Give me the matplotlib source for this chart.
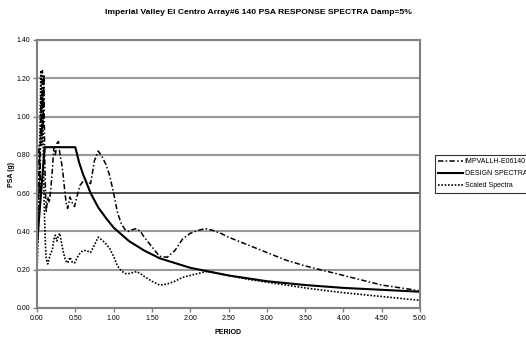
import matplotlib
matplotlib.use("Agg")
import matplotlib.pyplot as plt

plt.rcParams["font.family"] = ["Liberation Sans", "DejaVu Sans"]

# IMPVALLH-E06140 (dash-dot)
rec_period = [0.00, 0.01, 0.02, 0.03, 0.04, 0.05, 0.06, 0.07, 0.08, 0.09, 0.10, 0.11,
              0.12, 0.14, 0.16, 0.18, 0.20, 0.22, 0.24, 0.26, 0.28, 0.30, 0.32, 0.34,
              0.36, 0.38, 0.40, 0.43, 0.46, 0.49, 0.52, 0.56, 0.60, 0.65, 0.70, 0.75,
              0.80, 0.85, 0.90, 0.95, 1.00, 1.05, 1.10, 1.15, 1.20, 1.25, 1.30, 1.35,
              1.40, 1.50, 1.60, 1.70, 1.80, 1.90, 2.00, 2.10, 2.20, 2.30, 2.40, 2.50,
              2.75, 3.00, 3.25, 3.50, 3.75, 4.00, 4.25, 4.50, 4.75, 5.00]
rec_psa = [0.33, 0.40, 0.55, 0.85, 0.60, 1.10, 0.90, 1.24, 0.95, 1.22, 0.80, 0.62,
           0.50, 0.58, 0.55, 0.62, 0.72, 0.84, 0.80, 0.86, 0.87, 0.80, 0.76, 0.70,
           0.62, 0.55, 0.52, 0.58, 0.55, 0.53, 0.58, 0.64, 0.66, 0.66, 0.65, 0.77,
           0.82, 0.79, 0.75, 0.69, 0.60, 0.50, 0.44, 0.41, 0.40, 0.41, 0.415, 0.40,
           0.37, 0.32, 0.27, 0.265, 0.30, 0.36, 0.39, 0.405, 0.415, 0.405, 0.39, 0.37,
           0.33, 0.29, 0.25, 0.22, 0.195, 0.17, 0.145, 0.12, 0.105, 0.09]

# DESIGN SPECTRA (solid)
des_period = [0.00, 0.10, 0.50, 0.55, 0.60, 0.65, 0.70, 0.80, 0.90, 1.00, 1.20, 1.40,
              1.60, 1.80, 2.00, 2.25, 2.50, 3.00, 3.50, 4.00, 4.50, 5.00]
des_psa = [0.33, 0.84, 0.84, 0.76, 0.70, 0.65, 0.60, 0.525, 0.47, 0.42, 0.35, 0.30,
           0.26, 0.235, 0.21, 0.19, 0.17, 0.14, 0.12, 0.105, 0.095, 0.085]

# Scaled Spectra (dotted)
scl_period = [0.00, 0.01, 0.02, 0.03, 0.04, 0.05, 0.06, 0.07, 0.08, 0.09, 0.10, 0.11,
              0.12, 0.14, 0.16, 0.18, 0.20, 0.22, 0.24, 0.26, 0.28, 0.30, 0.32, 0.34,
              0.37, 0.40, 0.43, 0.46, 0.49, 0.52, 0.56, 0.60, 0.65, 0.70, 0.75, 0.80,
              0.85, 0.90, 0.95, 1.00, 1.05, 1.10, 1.15, 1.20, 1.25, 1.30, 1.35, 1.40,
              1.50, 1.60, 1.70, 1.80, 1.90, 2.00, 2.10, 2.20, 2.30, 2.50, 2.75, 3.00,
              3.25, 3.50, 3.75, 4.00, 4.25, 4.50, 4.75, 5.00]
scl_psa = [0.20, 0.30, 0.45, 0.70, 0.95, 1.24, 0.85, 1.15, 0.90, 0.60, 0.45, 0.33,
           0.26, 0.23, 0.26, 0.29, 0.30, 0.36, 0.38, 0.35, 0.38, 0.39, 0.34, 0.30,
           0.25, 0.235, 0.265, 0.24, 0.235, 0.26, 0.285, 0.30, 0.30, 0.29, 0.33, 0.37,
           0.355, 0.335, 0.31, 0.27, 0.22, 0.195, 0.18, 0.18, 0.185, 0.19, 0.18, 0.165,
           0.14, 0.12, 0.125, 0.14, 0.16, 0.17, 0.18, 0.19, 0.185, 0.17, 0.15, 0.135,
           0.12, 0.105, 0.092, 0.08, 0.07, 0.06, 0.05, 0.04]

labels = ["IMPVALLH-E06140", "DESIGN SPECTRA", "Scaled Spectra"]
x_ticks = [0.0, 0.5, 1.0, 1.5, 2.0, 2.5, 3.0, 3.5, 4.0, 4.5, 5.0]
y_ticks = [0.0, 0.2, 0.4, 0.6, 0.8, 1.0, 1.2, 1.4]

fig = plt.figure(figsize=(5.26, 3.39), dpi=100)
ax = fig.add_axes([37 / 526, 1 - 308 / 339, (420 - 37) / 526, (308 - 40) / 339])

ax.plot(rec_period, rec_psa, color="black", lw=1.1,
        linestyle=(0, (3.5, 1.5, 1, 1.5)), label=labels[0])
ax.plot(des_period, des_psa, color="black", lw=1.5, label=labels[1])
ax.plot(scl_period, scl_psa, color="black", lw=1.2,
        linestyle=(0, (1, 1)), label=labels[2])

ax.set_xlim(0, 5)
ax.set_ylim(0, 1.4)
ax.set_xticks(x_ticks)
ax.set_yticks(y_ticks)
ax.set_xticklabels([f"{v:.2f}" for v in x_ticks])
ax.set_yticklabels([f"{v:.2f}" for v in y_ticks])
ax.tick_params(labelsize=5, length=3, width=1, color="#808080", pad=2)

# horizontal gridlines, one darker like the original
ax.yaxis.grid(True, color="#999999", lw=1.5)
for v, gl in zip(y_ticks, ax.get_ygridlines()):
    if abs(v - 0.6) < 1e-6:
        gl.set_color("#303030")
        gl.set_linewidth(1.2)
ax.set_axisbelow(True)

for s in ax.spines.values():
    s.set_color("#808080")
    s.set_linewidth(1.5)

ax.set_xlabel("PERIOD", fontsize=5, fontweight="bold", labelpad=5)
ax.set_ylabel("PSA (g)", fontsize=5, fontweight="bold", labelpad=1)
fig.text(258 / 526, 1 - 13 / 339,
         "Imperial Valley El Centro Array#6 140 PSA RESPONSE SPECTRA Damp=5%",
         ha="center", va="center", fontsize=6.1, fontweight="bold")

leg = fig.legend(loc="upper left", bbox_to_anchor=(435 / 526, 1 - 155 / 339),
                 fontsize=5, frameon=True, fancybox=False, handlelength=3.6,
                 handletextpad=0.2, borderpad=0.5, labelspacing=0.7,
                 borderaxespad=0)
leg.get_frame().set_edgecolor("black")
leg.get_frame().set_linewidth(0.8)

fig.savefig("out.png", dpi=100)
